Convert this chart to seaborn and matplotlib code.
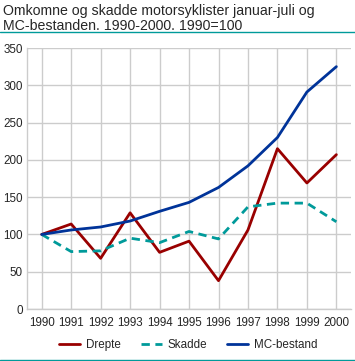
import numpy as np
import pandas as pd
import matplotlib
matplotlib.use("Agg")
import matplotlib.pyplot as plt
import seaborn as sns

# Data (1990 = 100)
years = [1990, 1991, 1992, 1993, 1994, 1995, 1996, 1997, 1998, 1999, 2000]
drepte = [100, 114, 68, 129, 76, 91, 38, 106, 215, 169, 207]
skadde = [100, 77, 78, 95, 89, 104, 94, 137, 142, 142, 117]
mc_bestand = [100, 106, 110, 118, 131, 143, 163, 192, 230, 291, 325]

series_names = ["Drepte", "Skadde", "MC-bestand"]
colors = ["#990000", "#009a9a", "#003399"]

df = pd.DataFrame({"År": years, "Drepte": drepte, "Skadde": skadde, "MC-bestand": mc_bestand})
long_df = df.melt(id_vars="År", var_name="Serie", value_name="Indeks")

sns.set_style("white")
plt.rcParams["font.family"] = ["Liberation Sans", "DejaVu Sans"]

fig = plt.figure(figsize=(3.55, 3.61), dpi=100)
ax = fig.add_axes([0.076, 0.144, 0.913, 0.723])

sns.lineplot(data=long_df, x="År", y="Indeks", hue="Serie", style="Serie",
             hue_order=series_names, style_order=series_names,
             palette=colors, dashes={"Drepte": "", "Skadde": (3, 2), "MC-bestand": ""},
             linewidth=2, ax=ax, legend=False)

ax.set_xlim(1989.5, 2000.5)
ax.set_ylim(0, 350)
ax.set_xticks(years)
ax.set_xticklabels([str(y) for y in years], fontsize=8.4)
ax.set_yticks(range(0, 351, 50))
ax.tick_params(axis="y", labelsize=8.4, length=0, pad=3)
ax.tick_params(axis="x", length=0, pad=6)
ax.set_xlabel("")
ax.set_ylabel("")
ax.grid(True, color="#cccccc", linewidth=1)
for side in ["top", "right"]:
    ax.spines[side].set_visible(False)
for side in ["left", "bottom"]:
    ax.spines[side].set_color("#cccccc")
    ax.spines[side].set_linewidth(1)

# Legend
handles = [plt.Line2D([], [], color=colors[0], lw=2),
           plt.Line2D([], [], color=colors[1], lw=2, ls=(0, (3, 2))),
           plt.Line2D([], [], color=colors[2], lw=2)]
fig.legend(handles, series_names, loc="center", bbox_to_anchor=(0.53, 0.044),
           ncol=3, frameon=False, fontsize=8.4, handlelength=1.8, columnspacing=1.7,
           handletextpad=0.5)

# Title and rules
fig.text(0.008, 0.99, "Omkomne og skadde motorsyklister januar-juli og\nMC-bestanden. 1990-2000. 1990=100",
         ha="left", va="top", fontsize=10.2, linespacing=1.1)
fig.add_artist(plt.Line2D([0, 1], [0.911, 0.911], color="#009a9a", lw=1, transform=fig.transFigure))
fig.add_artist(plt.Line2D([0, 1], [0.003, 0.003], color="#009a9a", lw=1, transform=fig.transFigure))

fig.savefig("out.png", dpi=100)
